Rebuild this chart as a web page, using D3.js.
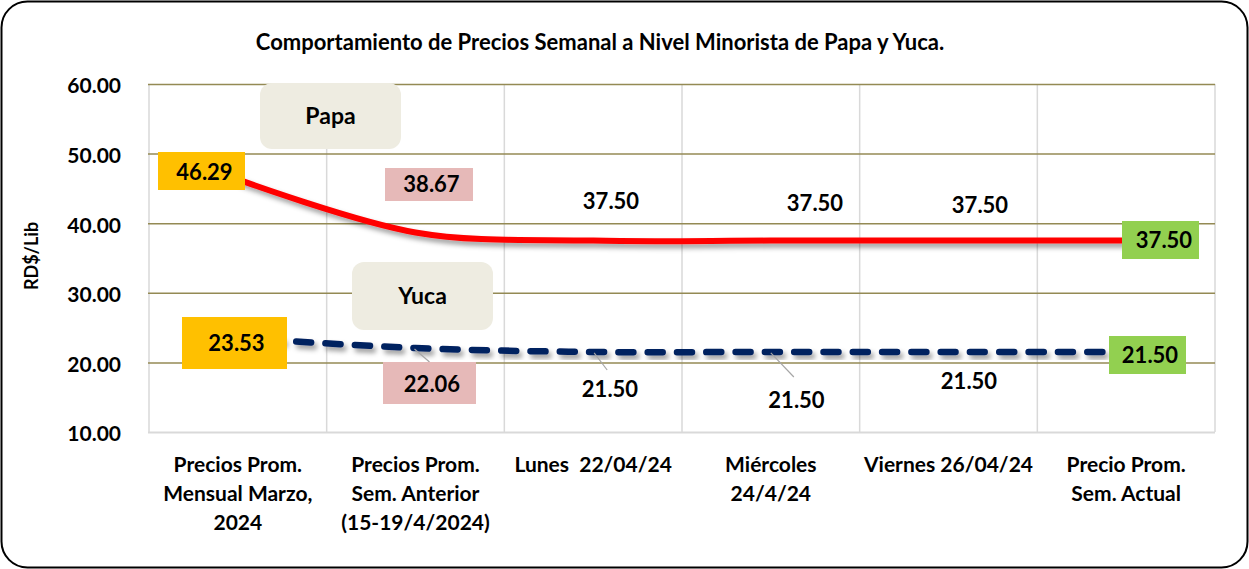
<!DOCTYPE html>
<html>
<head>
<meta charset="utf-8">
<script src="https://cdn.jsdelivr.net/npm/d3@7"></script>
<style>
  html, body { margin: 0; padding: 0; background: #fff; }
  svg { display: block; font-family: Lato, "Open Sans", sans-serif; font-weight: 700; }
</style>
</head>
<body>
<svg id="chart" width="1249" height="569"></svg>
<script>
// ---- data ----
const categories = [
  ["Precios Prom.", "Mensual Marzo,", "2024"],
  ["Precios Prom.", "Sem. Anterior", "(15-19/4/2024)"],
  ["Lunes  22/04/24"],
  ["Miércoles", "24/4/24"],
  ["Viernes 26/04/24"],
  ["Precio Prom.", "Sem. Actual"]
];
const papa = [46.29, 38.67, 37.50, 37.50, 37.50, 37.50];
const yuca = [23.53, 22.06, 21.50, 21.50, 21.50, 21.50];
const yTicks = [10, 20, 30, 40, 50, 60];
const title = "Comportamiento de Precios Semanal a Nivel Minorista de Papa y Yuca.";
const yTitle = "RD$/Lib";

// ---- layout ----
const W = 1249, H = 569;
const plot = { left: 149, right: 1215, top: 84, bottom: 432 };
const svg = d3.select("#chart");

const idx = d3.range(categories.length);
const xb = d3.scaleBand().domain(idx).range([plot.left, plot.right]).padding(0);
const xc = i => xb(i) + xb.bandwidth() / 2;
const y = d3.scaleLinear().domain([10, 60]).range([plot.bottom, plot.top]);

// filters
const defs = svg.append("defs");
const f = defs.append("filter").attr("id", "shadow").attr("x", "-5%").attr("y", "-50%").attr("width", "110%").attr("height", "200%");
f.append("feDropShadow").attr("dx", 3).attr("dy", 4).attr("stdDeviation", 2.5)
  .attr("flood-color", "#000").attr("flood-opacity", 0.38);

// outer border
svg.append("rect").attr("x", 1.5).attr("y", 1.5).attr("width", W - 3).attr("height", H - 3)
  .attr("rx", 26).attr("fill", "#fff").attr("stroke", "#000").attr("stroke-width", 2);

// title
svg.append("text").attr("x", 600).attr("y", 50).attr("text-anchor", "middle")
  .attr("font-size", 22).text(title);

// vertical gridlines (category boundaries)
const bounds = idx.map(i => xb(i)).concat([plot.right]);
svg.append("g").selectAll("line").data(bounds).join("line")
  .attr("x1", d => d).attr("x2", d => d).attr("y1", plot.top).attr("y2", plot.bottom)
  .attr("stroke", "#D9D9D9").attr("stroke-width", 1.5);

// horizontal gridlines via axis
const gy = svg.append("g").attr("transform", `translate(${plot.left},0)`)
  .call(d3.axisLeft(y).tickValues(yTicks).tickSize(-(plot.right - plot.left)).tickFormat(d => d.toFixed(2)).tickPadding(28));
gy.select(".domain").remove();
gy.selectAll(".tick line")
  .attr("stroke", d => d === 10 ? "#D9D9D9" : "#948A54")
  .attr("stroke-width", d => d === 10 ? 2 : 1.5)
  .attr("x1", -1);
gy.selectAll(".tick text").attr("font-size", 21).attr("font-family", "Lato, sans-serif")
  .attr("font-weight", 700).attr("fill", "#000").attr("dy", "0.42em");

// y axis title
svg.append("text").attr("transform", "translate(38,256) rotate(-90)").attr("text-anchor", "middle")
  .attr("font-size", 18).text(yTitle);

// x labels
const xl = svg.append("g");
categories.forEach((lines, i) => {
  const t = xl.append("text").attr("x", xc(i)).attr("text-anchor", "middle").attr("font-size", 21);
  lines.forEach((ln, j) => {
    t.append("tspan").attr("x", xc(i)).attr("y", 472 + j * 29).attr("xml:space", "preserve").text(ln);
  });
});

// lines
const line = d3.line().x((d, i) => xc(i)).y(d => y(d)).curve(d3.curveCardinal.tension(0));
svg.append("path").datum(papa).attr("d", line).attr("fill", "none")
  .attr("stroke", "#FF0000").attr("stroke-width", 6).attr("filter", "url(#shadow)");
svg.append("path").datum(yuca).attr("d", line).attr("fill", "none")
  .attr("stroke", "#002060").attr("stroke-width", 6.5).attr("stroke-linecap", "round")
  .attr("stroke-dasharray", "15,14.3").attr("filter", "url(#shadow)");

// callouts
function callout(cx, cy, w, h, label) {
  svg.append("rect").attr("x", cx - w / 2).attr("y", cy - h / 2).attr("width", w).attr("height", h)
    .attr("rx", 12).attr("fill", "#EEECE1");
  svg.append("text").attr("x", cx).attr("y", cy).attr("dy", "0.36em").attr("text-anchor", "middle")
    .attr("font-size", 23).text(label);
}
callout(330.5, 116, 141, 66, "Papa");
callout(422.5, 296, 141, 68, "Yuca");

// leader lines
function leader(x1, y1, x2, y2) {
  svg.append("line").attr("x1", x1).attr("y1", y1).attr("x2", x2).attr("y2", y2)
    .attr("stroke", "#A6A6A6").attr("stroke-width", 1.2);
}
leader(xc(1) - 1, y(yuca[1]) + 1, xc(1) + 14, 362);
leader(xc(2) + 1, y(yuca[2]) + 1, xc(2) + 14, 370);
leader(xc(3) + 0, y(yuca[3]) + 1, xc(3) + 23, 377);

// data labels
const fmt = d => d.toFixed(2);
function label(value, tx, ty, box) {
  if (box) {
    svg.append("rect").attr("x", box[0]).attr("y", box[1]).attr("width", box[2] - box[0]).attr("height", box[3] - box[1])
      .attr("fill", box[4]);
  }
  svg.append("text").attr("x", tx).attr("y", ty).attr("dy", "0.36em").attr("text-anchor", "middle")
    .attr("font-size", 22).text(fmt(value));
}
// Papa
label(papa[0], 204.5, 172, [158, 152, 245, 190, "#FFC000"]);
label(papa[1], 431.5, 184.5, [385, 168, 473, 201, "#E6B9B8"]);
label(papa[2], 611, 201);
label(papa[3], 815, 203.5);
label(papa[4], 980, 205);
label(papa[5], 1164, 240, [1122, 221, 1199, 259, "#92D050"]);
// Yuca
label(yuca[0], 236.5, 343, [182, 317, 287, 369, "#FFC000"]);
label(yuca[1], 432, 384.5, [383, 362, 476, 404, "#E6B9B8"]);
label(yuca[2], 610, 389.5);
label(yuca[3], 796.5, 400.5);
label(yuca[4], 969, 381.5, [929, 364, 1005, 400, "#FFFFFF"]);
label(yuca[5], 1150, 355, [1109, 336, 1186, 374, "#92D050"]);
</script>
</body>
</html>
